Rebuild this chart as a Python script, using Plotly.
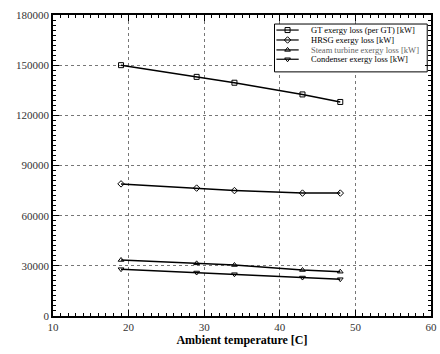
import plotly.graph_objects as go

temps = [19, 29, 34, 43, 48]
gt_loss = [150000, 143000, 139500, 132500, 128000]
hrsg_loss = [79000, 76500, 75000, 73500, 73500]
steam_loss = [33500, 31500, 30500, 27500, 26500]
cond_loss = [28000, 26000, 25000, 23000, 22000]

names = ["GT exergy loss (per GT) [kW]", "HRSG exergy loss [kW]",
         "Steam turbine exergy loss [kW]", "Condenser exergy loss [kW]"]
series = [gt_loss, hrsg_loss, steam_loss, cond_loss]
symbols = ["square-open", "diamond-open", "triangle-up-open", "triangle-down-open"]
text_colors = ["black", "black", "#666", "black"]

font = "Liberation Serif, Times New Roman, serif"

fig = go.Figure()
for n, s, sym in zip(names, series, symbols):
    fig.add_trace(go.Scatter(
        x=temps, y=s, name=n, mode="lines+markers",
        line=dict(color="black", width=1.5),
        marker=dict(symbol=sym, size=5, color="black", line=dict(width=1, color="black")),
        showlegend=False,
    ))

# custom compact legend drawn on an overlay axis spanning the plot area (0..1)
leg_x0, leg_x1, leg_y0, leg_y1 = 0.586, 0.990, 0.811, 0.970
row_y = [0.950, 0.917, 0.884, 0.853]
fig.add_trace(go.Scatter(
    x=[leg_x0, leg_x1, leg_x1, leg_x0, leg_x0], y=[leg_y0, leg_y0, leg_y1, leg_y1, leg_y0],
    xaxis="x2", yaxis="y2", mode="lines", fill="toself", fillcolor="white",
    line=dict(color="black", width=1), showlegend=False, hoverinfo="skip",
))
seg_x, seg_y = [], []
for ry in row_y:
    seg_x += [0.591, 0.650, None]
    seg_y += [ry, ry, None]
fig.add_trace(go.Scatter(
    x=seg_x, y=seg_y, xaxis="x2", yaxis="y2", mode="lines",
    line=dict(color="black", width=1.2), showlegend=False, hoverinfo="skip",
))
fig.add_trace(go.Scatter(
    x=[0.6205] * 4, y=row_y, xaxis="x2", yaxis="y2", mode="markers",
    marker=dict(symbol=symbols, size=5, color="black", line=dict(width=1, color="black")),
    showlegend=False, hoverinfo="skip",
))
for n, tc, ry in zip(names, text_colors, row_y):
    fig.add_annotation(xref="paper", yref="paper", x=0.677, y=ry, text=n, showarrow=False,
                       xanchor="left", yanchor="middle", font=dict(family=font, size=8.5, color=tc))

axis_common = dict(
    showline=True, linecolor="black", linewidth=1.5, mirror="allticks",
    ticks="inside", ticklen=6, tickcolor="black", tickwidth=1,
    showgrid=True, gridcolor="#777", griddash="3px,3px", gridwidth=1,
    zeroline=False, tickfont=dict(family=font, size=11, color="#333"),
    ticklabeloverflow="allow",
)
fig.update_xaxes(range=[10, 60], dtick=10, tick0=10,
                 minor=dict(dtick=1, ticklen=3, ticks="inside", tickcolor="black", showgrid=False),
                 title=dict(text="<b>Ambient temperature [C]</b>", font=dict(family=font, size=12, color="black"), standoff=4),
                 **axis_common)
fig.update_yaxes(range=[0, 180000], dtick=30000, tickformat="d",
                 minor=dict(dtick=3000, ticklen=3, ticks="inside", tickcolor="black", showgrid=False),
                 **axis_common)

fig.update_layout(
    width=440, height=354,
    margin=dict(l=53, r=3, t=15, b=38),
    plot_bgcolor="white", paper_bgcolor="white",
    font=dict(family=font, color="black"),
    xaxis2=dict(overlaying="x", range=[0, 1], visible=False, fixedrange=True),
    yaxis2=dict(overlaying="y", range=[0, 1], visible=False, fixedrange=True),
    showlegend=False,
)
fig.write_html("out.html")
